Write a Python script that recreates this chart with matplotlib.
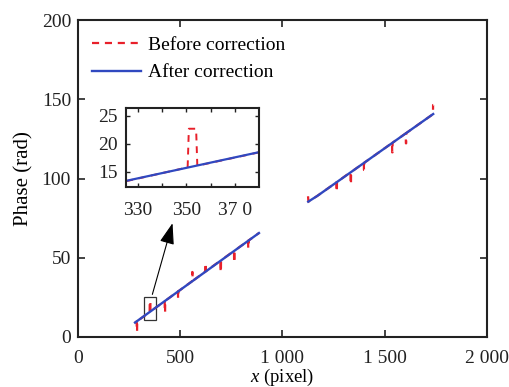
import matplotlib
matplotlib.use("Agg")
import matplotlib.pyplot as plt
from matplotlib.patches import Rectangle

plt.rcParams['font.family'] = ['Liberation Serif', 'DejaVu Serif']
plt.rcParams['mathtext.fontset'] = 'custom'
plt.rcParams['mathtext.it'] = 'Liberation Serif:italic'

# after correction (two straight pieces)
after_x1 = [279, 885]
after_y1 = [9.1, 65.6]
after_x2 = [1126, 1170, 1737]
after_y2 = [85.4, 89.0, 140.7]

# before correction: same line with narrow phase jumps
before_x1 = [279, 287, 287.5, 289, 289.5, 350.5, 351, 354, 354.5,
             424, 424.5, 426, 426.5, 489, 489.5, 491, 491.5,
             558, 558.5, 560, 560.5, 623, 623.5, 625, 625.5,
             697, 697.5, 699, 699.5, 763, 763.5, 765, 765.5,
             832, 832.5, 834, 834.5, 885]
before_y1 = [9.1, 9.8, 3.5, 3.5, 9.9, 15.8, 22.7, 22.7, 16.1,
             22.6, 15.4, 15.4, 22.8, 28.7, 24.4, 24.4, 28.9,
             35.2, 41.0, 41.0, 35.4, 41.3, 46.5, 46.5, 41.5,
             48.2, 41.0, 41.0, 48.4, 54.3, 47.0, 47.0, 54.5,
             60.7, 56.0, 56.0, 60.9, 65.6]
before_x2 = [1125, 1127, 1170, 1264, 1264.5, 1266, 1266.5,
             1333, 1333.5, 1335, 1335.5, 1398, 1398.5, 1400, 1400.5,
             1536, 1536.5, 1538, 1538.5, 1603, 1603.5, 1605, 1605.5,
             1736, 1736.5, 1737]
before_y2 = [88.8, 85.4, 89.0, 97.6, 91.7, 91.7, 97.8,
             104.0, 96.3, 96.3, 104.1, 109.8, 105.4, 105.4, 110.0,
             122.4, 116.5, 116.5, 122.6, 128.5, 122.2, 122.2, 128.7,
             140.6, 146.4, 146.4]

xticks = [0, 500, 1000, 1500, 2000]
xticklabels = ['0', '500', '1 000', '1 500', '2 000']
yticks = [0, 50, 100, 150, 200]
inset_xticks = [330, 340, 350, 360, 370]
inset_xlabels = ['330', '', '350', '', '37 0']
inset_yticks = [15, 20, 25]

red = '#e8202a'
blue = '#3048c0'

fig = plt.figure(figsize=(5.09, 3.87), dpi=100)
ax = fig.add_axes([0.1532, 0.1292, 0.8035, 0.819])

ax.plot(before_x1, before_y1, color=red, lw=1.6, dashes=(3.2, 2.6), label='Before correction')
ax.plot(before_x2, before_y2, color=red, lw=1.6, dashes=(3.2, 2.6))
ax.plot(after_x1, after_y1, color=blue, lw=1.7, label='After correction')
ax.plot(after_x2, after_y2, color=blue, lw=1.7)

ax.add_patch(Rectangle((324, 10.5), 56, 14.5, fill=False, ec='#333333', lw=0.9))
ax.annotate('', xy=(466, 73.5), xytext=(360, 25.2),
            arrowprops=dict(arrowstyle='-|>,head_length=1.3,head_width=0.45',
                            color='black', lw=0.8))

ax.set_xlim(0, 2000)
ax.set_ylim(0, 200)
ax.set_xticks(xticks)
ax.set_xticklabels(xticklabels)
ax.set_yticks(yticks)
ax.tick_params(direction='in', top=True, right=True, length=5, width=1.2,
               labelsize=14, colors='#222222')
ax.tick_params(axis='x', pad=9.5)
ax.tick_params(axis='y', pad=5)
for s in ax.spines.values():
    s.set_linewidth(1.5)
    s.set_color('#222222')
ax.set_xlabel('$x$ (pixel)', fontsize=13.5, labelpad=-0.5)
ax.set_ylabel('Phase (rad)', fontsize=15, labelpad=6)

ax.legend(loc='upper left', bbox_to_anchor=(0.035, 0.948), frameon=False,
          fontsize=14, handlelength=2.5, handletextpad=0.35, labelspacing=0.5,
          borderpad=0, borderaxespad=0)

# inset
ins = fig.add_axes([0.2475, 0.5168, 0.2613, 0.2041])
ins.plot(before_x1, before_y1, color=red, lw=1.4, linestyle=(3.5, (3.5, 3)))
ins.plot(after_x1, after_y1, color=blue, lw=1.6)
ins.set_xlim(325, 380)
ins.set_ylim(12.3, 26.4)
ins.set_xticks(inset_xticks)
ins.set_xticklabels(inset_xlabels)
ins.set_yticks(inset_yticks)
ins.tick_params(direction='in', top=True, right=True, length=3, width=1,
                labelsize=14, colors='#222222')
ins.tick_params(axis='x', pad=11)
ins.tick_params(axis='y', pad=6)
for s in ins.spines.values():
    s.set_linewidth(1.5)
    s.set_color('#222222')

fig.savefig('out.png', dpi=100)
